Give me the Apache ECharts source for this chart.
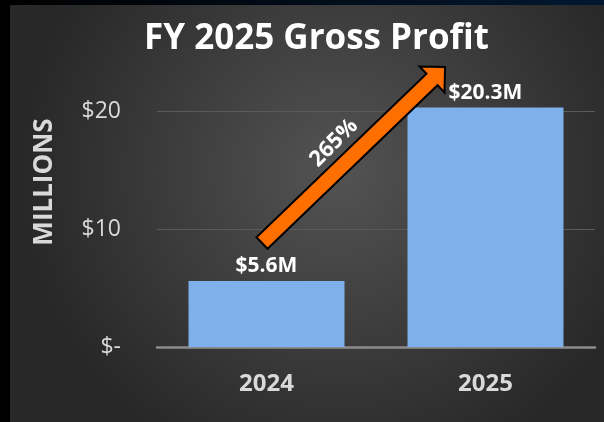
<!DOCTYPE html>
<html>
<head>
<meta charset="utf-8">
<script src="https://cdn.jsdelivr.net/npm/echarts@6/dist/echarts.min.js"></script>
<style>
  html, body { margin: 0; padding: 0; background: #000; }
  #chart { width: 604px; height: 422px; }
</style>
</head>
<body>
<div id="chart"></div>
<script>
// data
var years = ['2024', '2025'];
var profit = [5.6, 20.3];          // millions
var growthLabel = '265%';
var yTicks = [0, 10, 20];

var chart = echarts.init(document.getElementById('chart'));

// orange growth arrow (annotation, pixel space)
function arrowPoints(tail, tip) {
    var dx = tip[0] - tail[0], dy = tip[1] - tail[1];
    var len = Math.sqrt(dx * dx + dy * dy);
    var ux = dx / len, uy = dy / len;
    var nx = -uy, ny = ux;
    var shaft = 8, head = 18, headLen = 18;
    var bx = tip[0] - ux * headLen, by = tip[1] - uy * headLen;
    return [
        [tail[0] + nx * shaft, tail[1] + ny * shaft],
        [bx + nx * shaft, by + ny * shaft],
        [bx + nx * head, by + ny * head],
        tip,
        [bx - nx * head, by - ny * head],
        [bx - nx * shaft, by - ny * shaft],
        [tail[0] - nx * shaft, tail[1] - ny * shaft]
    ];
}

chart.setOption({
    backgroundColor: '#000',
    animation: false,
    title: {
        text: 'FY 2025 Gross Profit',
        left: 139,
        top: 17,
        textStyle: { color: '#fff', fontFamily: 'Open Sans', fontWeight: 'bold', fontSize: 35 }
    },
    grid: { left: 157, right: 9, top: 52, bottom: 75 },
    xAxis: {
        type: 'category',
        data: years,
        axisLine: { lineStyle: { color: '#8c8c8c', width: 2.5 } },
        axisTick: { show: false },
        axisLabel: { color: '#d9d9d9', fontFamily: 'Open Sans', fontWeight: 'bold', fontSize: 24, margin: 25 }
    },
    yAxis: {
        type: 'value',
        min: 0,
        max: 25,
        interval: 10,
        axisLine: { show: false },
        axisTick: { show: false },
        splitLine: { showMaxLine: false, lineStyle: { color: '#5a5a5a', width: 1 } },
        axisLabel: {
            showMaxLabel: false,
            color: '#d9d9d9', fontFamily: 'Open Sans', fontSize: 23, margin: 36,
            formatter: function (v) {
                if (yTicks.indexOf(v) < 0) return '';
                return v === 0 ? '$-' : '$' + v;
            }
        }
    },
    graphic: [
        {
            type: 'rect', z: -10, silent: true,
            shape: { x: 10, y: 5, width: 594, height: 417 },
            style: {
                fill: new echarts.graphic.RadialGradient(0.55, 0.4, 0.75, [
                    { offset: 0, color: '#535353' },
                    { offset: 1, color: '#282828' }
                ])
            }
        },
        {
            type: 'rect', z: -10, silent: true,
            shape: { x: 10, y: 0, width: 594, height: 5 },
            style: {
                fill: new echarts.graphic.LinearGradient(0, 0, 1, 0, [
                    { offset: 0, color: '#000' },
                    { offset: 1, color: '#021830' }
                ])
            }
        },
        {
            type: 'text', z: 10,
            x: 45, y: 182, rotation: Math.PI / 2,
            style: {
                text: 'MILLIONS', fill: '#d9d9d9',
                font: 'bold 26px "Open Sans"',
                align: 'center', verticalAlign: 'middle'
            }
        },
        {
            type: 'polygon', z: 10,
            shape: { points: arrowPoints([262, 243], [445, 67]) },
            style: { fill: '#ff6f00', stroke: '#000', lineWidth: 2 }
        },
        {
            type: 'text', z: 11,
            x: 334, y: 143, rotation: Math.PI / 4,
            style: {
                text: growthLabel, fill: '#fff',
                font: 'bold 22px "Open Sans"',
                align: 'center', verticalAlign: 'middle'
            }
        }
    ],
    series: [{
        type: 'bar',
        data: profit,
        barWidth: 156,
        itemStyle: { color: '#7eb0eb' },
        label: {
            show: true,
            position: 'top',
            distance: 4,
            color: '#fff',
            fontFamily: 'Open Sans',
            fontWeight: 'bold',
            fontSize: 21,
            formatter: function (p) { return '$' + p.value + 'M'; }
        }
    }]
});
</script>
</body>
</html>
